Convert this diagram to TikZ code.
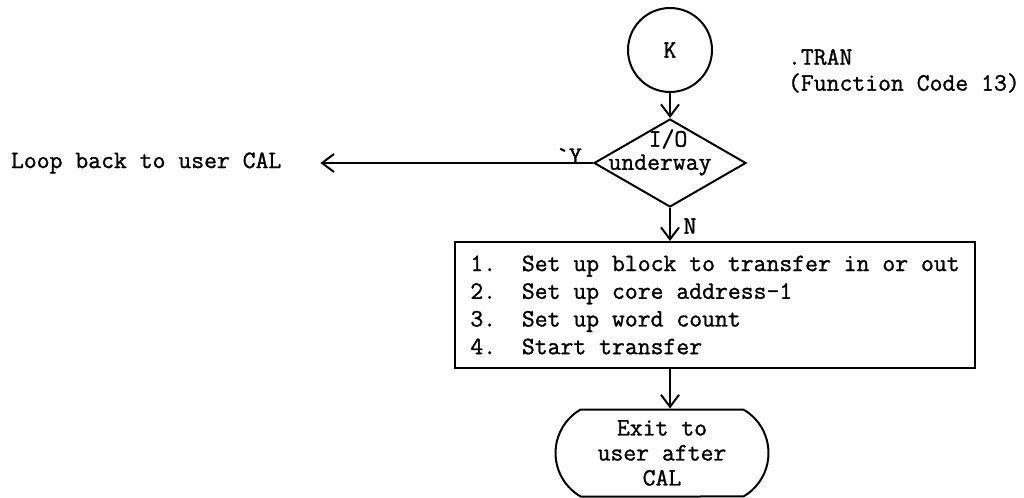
\documentclass[tikz,border=0pt]{standalone}
\usepackage{fontspec}
\setmainfont{Latin Modern Mono}[FakeBold=1.2]
\usetikzlibrary{shapes.geometric,shapes.misc,arrows.meta}
\begin{document}
\begin{tikzpicture}[x=0.5pt,y=-0.5pt,
  line width=1pt,
  every node/.style={font=\fontsize{12.5}{13.85}\selectfont},
  arr/.style={-{Straight Barb[length=6pt,width=9pt,line width=1pt]}},
  conn/.style={draw, circle, minimum size=42pt, inner sep=0pt},
  decision/.style={draw, diamond, minimum width=76pt, minimum height=44pt, inner sep=0pt},
  process/.style={draw, minimum width=260pt, minimum height=63pt, align=left, inner sep=0pt},
  terminal/.style={draw, rounded rectangle, rounded rectangle arc length=120, minimum width=106.5pt, minimum height=43.5pt, align=center, inner sep=0pt, font=\fontsize{12.5}{12.5}\selectfont},
  lbl/.style={inner sep=0pt}]
\useasboundingbox (0,0) rectangle (1024,498);
\node[conn] (k) at (670,50) {K};
\node[lbl, anchor=west] (tran) at (787,57) {.TRAN};
\node[lbl, anchor=west] (fc) at (787,83) {(Function Code 13)};
\node[decision] (dec) at (670,163) {};
\node[lbl] (io) at (668,139) {I/O};
\node[lbl] (uw) at (660,165) {underway};
\node[lbl, anchor=west] (loop) at (10,163) {Loop back to user CAL};
\node[lbl] (y) at (569,156) {\textasciigrave Y};
\node[lbl] (n) at (690,226) {N};
\node[process] (box) at (715,305) {1.\ \ Set up block to transfer in or out\\2.\ \ Set up core address-1\\3.\ \ Set up word count\\4.\ \ Start transfer};
\node[terminal] (exit) at (662,453) {Exit to\\user after\\CAL};
\draw[arr] (k.south) -- (dec.north);
\draw[arr] (dec.west) -- ([xshift=19pt]loop.east);
\draw[arr] (dec.south) -- (dec.south |- box.north);
\draw[arr] (box.south -| dec.south) -- (exit.north -| dec.south);
\end{tikzpicture}
\end{document}
